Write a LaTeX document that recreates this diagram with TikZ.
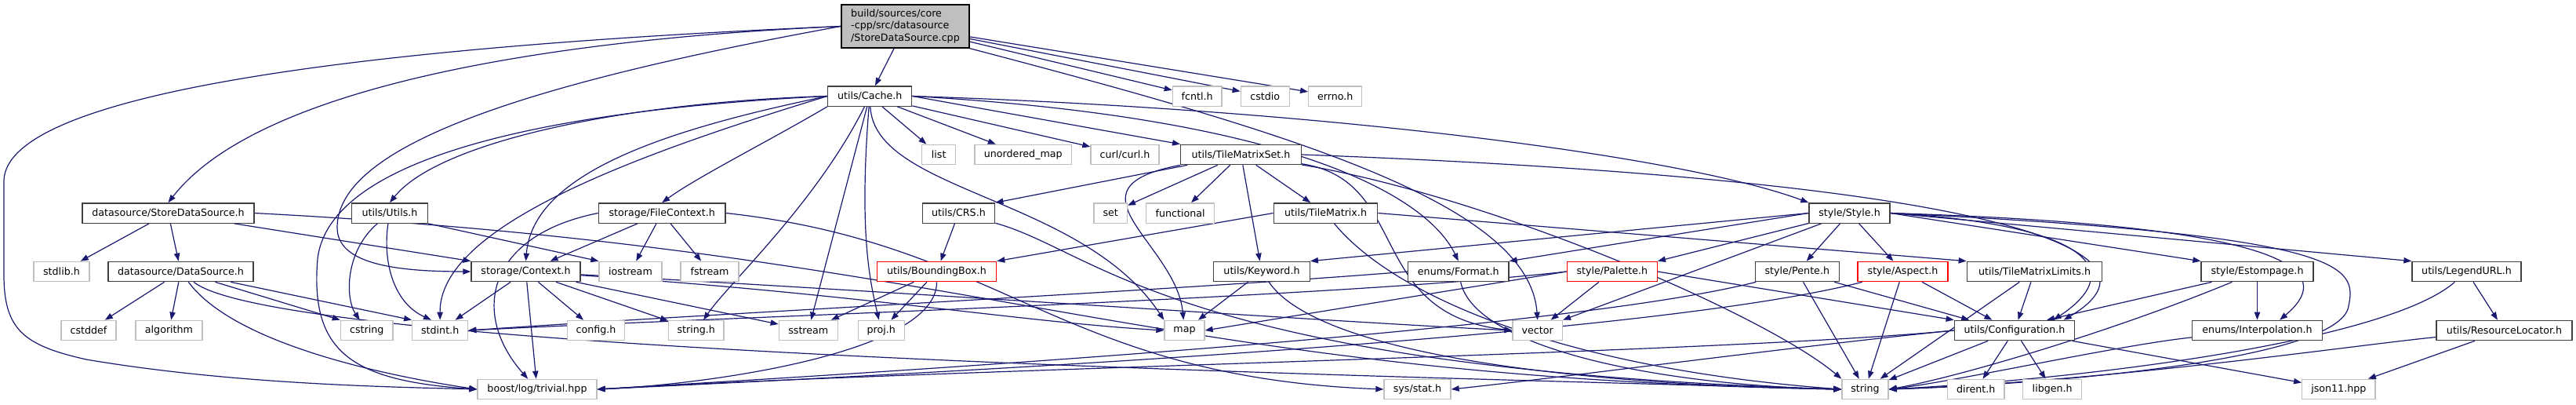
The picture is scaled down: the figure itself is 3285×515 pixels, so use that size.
\documentclass[tikz,border=0pt]{standalone}
\usepackage{fontspec}
\setmainfont{DejaVu Sans}
\usetikzlibrary{arrows.meta,backgrounds}
\definecolor{dxedge}{HTML}{191970}
\definecolor{dxgray}{HTML}{BFBFBF}
\definecolor{dxdark}{HTML}{404040}
\definecolor{dxred}{HTML}{FF0000}
\tikzset{
  hdr/.style={rectangle,draw=dxdark,line width=1pt,fill=white,minimum height=19pt,
              inner sep=0pt,font=\fontsize{9.5}{11.5}\selectfont},
  sys/.style={hdr,draw=dxgray},
  trunc/.style={hdr,draw=dxred},
  root/.style={hdr,draw=black,fill=dxgray,align=left,minimum height=41.25pt},
  wd/.style={minimum width=#1*0.75pt},
  dep/.style={-{Triangle[length=7.5pt,width=5.5pt]},draw=dxedge,line width=0.9pt},
}

\begin{document}
\begin{tikzpicture}[x=0.75pt,y=-0.75pt]
  \useasboundingbox (0,0) rectangle (3285,515);
  % row 0 / 1
  \node[root,wd=163] (main) at (1154.5,33.5) {build/sources/core\\-cpp/src/datasource\\/StoreDataSource.cpp};
  \node[hdr,wd=107] (cache) at (1109.2,122.5) {utils/Cache.h};
  \node[sys,wd=62.7] (fcntl) at (1526.7,122.5) {fcntl.h};
  \node[sys,wd=62] (cstdio) at (1613.3,122.5) {cstdio};
  \node[sys,wd=68] (errno) at (1702.7,122.5) {errno.h};
  % row 2
  \node[sys,wd=43] (list) at (1197.2,197) {list};
  \node[sys,wd=123.7] (umap) at (1304.8,197) {unordered\_map};
  \node[sys,wd=87] (curl) at (1434.5,197) {curl/curl.h};
  \node[hdr,wd=153.6] (tms) at (1582.5,197) {utils/TileMatrixSet.h};
  % row 3
  \node[hdr,wd=219] (sds) at (214.5,271.5) {datasource/StoreDataSource.h};
  \node[hdr,wd=96.6] (utils) at (497,271.5) {utils/Utils.h};
  \node[hdr,wd=161.7] (filectx) at (844.2,271.5) {storage/FileContext.h};
  \node[hdr,wd=92.4] (crs) at (1222.5,271.5) {utils/CRS.h};
  \node[sys,wd=42.3] (set) at (1416.2,271.5) {set};
  \node[sys,wd=87] (functional) at (1505.2,271.5) {functional};
  \node[hdr,wd=132.4] (tm) at (1690.5,271.5) {utils/TileMatrix.h};
  \node[hdr,wd=103] (style) at (2358.5,271.5) {style/Style.h};
  % row 4
  \node[sys,wd=71] (stdlib) at (78.5,346) {stdlib.h};
  \node[hdr,wd=185] (ds) at (230.5,346) {datasource/DataSource.h};
  \node[hdr,wd=139] (ctx) at (670.5,346) {storage/Context.h};
  \node[sys,wd=80] (iostream) at (804,346) {iostream};
  \node[sys,wd=74] (fstream) at (905,346) {fstream};
  \node[trunc,wd=152.4] (bbox) at (1194.5,346) {utils/BoundingBox.h};
  \node[hdr,wd=122.6] (keyword) at (1609,346) {utils/Keyword.h};
  \node[hdr,wd=128.3] (format) at (1859.8,346) {enums/Format.h};
  \node[trunc,wd=115] (palette) at (2055.8,346) {style/Palette.h};
  \node[hdr,wd=107] (pente) at (2291.8,346) {style/Pente.h};
  \node[trunc,wd=115] (aspect) at (2426.5,346) {style/Aspect.h};
  \node[hdr,wd=172.4] (tml) at (2594.5,346) {utils/TileMatrixLimits.h};
  \node[hdr,wd=143] (estompage) at (2878.5,346) {style/Estompage.h};
  \node[hdr,wd=139] (legend) at (3145.5,346) {utils/LegendURL.h};
  % row 5
  \node[sys,wd=70] (cstddef) at (113,421) {cstddef};
  \node[sys,wd=85] (algorithm) at (215.5,421) {algorithm};
  \node[sys,wd=66.7] (cstring) at (467.7,421) {cstring};
  \node[sys,wd=71] (stdint) at (561.2,421) {stdint.h};
  \node[sys,wd=73.4] (config) at (760,421) {config.h};
  \node[sys,wd=70.3] (stringh) at (887.8,421) {string.h};
  \node[sys,wd=75] (sstream) at (1030.8,421) {sstream};
  \node[sys,wd=59] (proj) at (1123.8,421) {proj.h};
  \node[sys,wd=51] (map) at (1510.5,421) {map};
  \node[sys,wd=63.3] (vector) at (1960.7,421) {vector};
  \node[hdr,wd=153.4] (conf) at (2569,421) {utils/Configuration.h};
  \node[hdr,wd=165.6] (interp) at (2878.5,421) {enums/Interpolation.h};
  \node[hdr,wd=173] (resloc) at (3193.5,421) {utils/ResourceLocator.h};
  % row 6
  \node[sys,wd=152] (boost) at (685,496) {boost/log/trivial.hpp};
  \node[sys,wd=85] (sysstat) at (1807.5,496) {sys/stat.h};
  \node[sys,wd=59] (string) at (2378.5,496) {string};
  \node[sys,wd=72.3] (dirent) at (2519.8,496) {dirent.h};
  \node[sys,wd=75] (libgen) at (2617.2,496) {libgen.h};
  \node[sys,wd=93.3] (json) at (2982.3,496) {json11.hpp};

  \begin{scope}[on background layer]
  % StoreDataSource.cpp
  \draw[dep] (main) -- (cache);
  \draw[dep] (main.west) .. controls (700,50) and (330,110) .. (sds.north);
  \draw[dep] (main.west) .. controls (450,60) and (8,120) .. (5,230) -- (5,350)
        .. controls (5,420) and (30,440) .. (110,458) .. controls (300,490) and (500,493) .. (boost.west);
  \draw[dep] (main.west) .. controls (650,110) and (430,190) .. (430,290) .. controls (430,335) and (500,346) .. (ctx.west);
  \draw[dep] (main) -- (fcntl);
  \draw[dep] (main) -- (cstdio);
  \draw[dep] (main) -- (errno);
  \draw[dep] (main.south east) .. controls (1650,170) and (1950,260) .. (vector.north);
  % Cache.h
  \draw[dep] (cache) -- (list);
  \draw[dep] (cache) -- (umap);
  \draw[dep] (cache) -- (curl);
  \draw[dep] (cache.east) -- (tms.north west);
  \draw[dep] (cache.east) .. controls (1700,140) and (2150,200) .. (style.north west);
  \draw[dep] (cache.east) .. controls (1650,150) and (1820,250) .. (format.north);
  \draw[dep] (cache.west) .. controls (800,130) and (560,180) .. (utils.north);
  \draw[dep] (cache.west) .. controls (700,140) and (420,200) .. (405,330) .. controls (395,450) and (450,485) .. (boost.west);
  \draw[dep] (cache.west) .. controls (850,165) and (680,220) .. (ctx.north);
  \draw[dep] (cache.west) .. controls (800,200) and (560,290) .. (stdint.north);
  \draw[dep] (cache.south west) .. controls (980,180) and (890,225) .. (filectx.north);
  \draw[dep] (cache) .. controls (1040,260) and (930,360) .. (stringh);
  \draw[dep] (cache) -- (sstream);
  \draw[dep] (cache) .. controls (1095,300) and (1110,360) .. (proj);
  \draw[dep] (cache) .. controls (1115,245) and (1380,250) .. (map.north west);
  % StoreDataSource.h
  \draw[dep] (sds) -- (stdlib);
  \draw[dep] (sds) -- (ds);
  \draw[dep] (sds) -- (ctx.north west);
  \draw[dep] (sds.east) .. controls (1250,320) and (1450,480) .. (string.west);
  % Utils.h
  \draw[dep] (utils) .. controls (440,320) and (440,380) .. (cstring);
  \draw[dep] (utils) .. controls (488,330) and (500,385) .. (stdint.130);
  \draw[dep] (utils.south east) -- (iostream.north west);
  % FileContext.h
  \draw[dep] (filectx) -- (ctx);
  \draw[dep] (filectx) -- (iostream);
  \draw[dep] (filectx) -- (fstream);
  \draw[dep] (filectx.west) .. controls (620,300) and (600,400) .. (boost);
  \draw[dep] (filectx.east) .. controls (1280,310) and (1350,480) .. (sysstat.west);
  % Context.h
  \draw[dep] (ctx) -- (stdint);
  \draw[dep] (ctx) -- (boost);
  \draw[dep] (ctx) -- (config);
  \draw[dep] (ctx) -- (stringh);
  \draw[dep] (ctx) -- (sstream);
  \draw[dep] (ctx) .. controls (1100,375) and (1300,410) .. (map.west);
  \draw[dep] (ctx) .. controls (1200,375) and (1700,410) .. (vector.west);
  % DataSource.h
  \draw[dep] (ds) -- (cstddef);
  \draw[dep] (ds) -- (algorithm);
  \draw[dep] (ds) -- (cstring.north west);
  \draw[dep] (ds) -- (stdint.north west);
  \draw[dep] (ds) .. controls (300,440) and (500,480) .. (boost.west);
  \draw[dep] (ds) .. controls (360,450) and (1800,480) .. (string.west);
  % CRS.h
  \draw[dep] (crs) -- (bbox);
  \draw[dep] (crs) .. controls (1400,320) and (1500,470) .. (string.west);
  % TileMatrixSet.h
  \draw[dep] (tms) -- (crs.north east);
  \draw[dep] (tms) -- (set);
  \draw[dep] (tms) -- (functional);
  \draw[dep] (tms) -- (tm);
  \draw[dep] (tms) -- (keyword);
  \draw[dep] (tms.south west) .. controls (1350,240) and (1500,310) .. (map);
  \draw[dep] (tms) .. controls (1800,230) and (1740,400) .. (vector.west);
  \draw[dep] (tms) .. controls (1900,250) and (2250,400) .. (string.north west);
  \draw[dep] (tms.east) .. controls (2550,230) and (2780,320) .. (conf.12);
  % TileMatrix.h
  \draw[dep] (tm.west) -- (bbox.north east);
  \draw[dep] (tm.east) -- (tml.north west);
  \draw[dep] (tm) .. controls (1780,380) and (2000,470) .. (string.west);
  % Keyword.h, Format.h
  \draw[dep] (keyword) -- (map);
  \draw[dep] (keyword) .. controls (1680,450) and (2000,490) .. (string.west);
  \draw[dep] (format.west) .. controls (1500,370) and (900,400) .. (stdint.east);
  \draw[dep] (format) .. controls (1880,440) and (2100,490) .. (string.west);
  % Style.h
  \draw[dep] (style.west) -- (keyword.north east);
  \draw[dep] (style.west) -- (format.north east);
  \draw[dep] (style) -- (palette.north east);
  \draw[dep] (style) -- (vector.north east);
  \draw[dep] (style) -- (pente);
  \draw[dep] (style) -- (aspect);
  \draw[dep] (style.east) -- (estompage.north west);
  \draw[dep] (style.east) -- (legend.north west);
  \draw[dep] (style.east) .. controls (2650,285) and (2720,340) .. (conf.15);
  \draw[dep] (style.east) .. controls (2850,285) and (3000,330) .. (interp.25);
  \draw[dep] (style.east) .. controls (3000,300) and (3005,340) .. (2995,390) .. controls (2985,460) and (2600,490) .. (string.east);
  % Palette.h, Pente.h, Aspect.h
  \draw[dep] (palette) -- (vector);
  \draw[dep] (palette.west) -- (map.east);
  \draw[dep] (palette.west) .. controls (1700,380) and (900,405) .. (stdint.east);
  \draw[dep] (palette.east) -- (conf.north west);
  \draw[dep] (pente) -- (string);
  \draw[dep] (pente) -- (conf.167);
  \draw[dep] (pente) .. controls (2000,420) and (1200,470) .. (boost.east);
  \draw[dep] (aspect) -- (string);
  \draw[dep] (aspect) -- (conf.155);
  \draw[dep] (aspect) .. controls (2100,430) and (1200,475) .. (boost.east);
  % TileMatrixLimits.h, Estompage.h
  \draw[dep] (tml) -- (conf);
  \draw[dep] (tml) -- (string);
  \draw[dep] (estompage) -- (conf.18);
  \draw[dep] (estompage) -- (interp);
  \draw[dep] (estompage) .. controls (2700,420) and (2500,480) .. (string.east);
  % LegendURL.h, ResourceLocator.h, Interpolation.h
  \draw[dep] (legend) -- (resloc);
  \draw[dep] (legend) .. controls (3050,430) and (2700,480) .. (string.east);
  \draw[dep] (resloc) -- (json);
  \draw[dep] (resloc) .. controls (3000,440) and (2700,485) .. (string.east);
  \draw[dep] (interp) .. controls (2700,440) and (2500,485) .. (string.east);
  % Configuration.h
  \draw[dep] (conf) -- (dirent);
  \draw[dep] (conf) -- (libgen);
  \draw[dep] (conf) -- (json);
  \draw[dep] (conf) -- (string);
  \draw[dep] (conf.west) .. controls (2300,440) and (2000,480) .. (sysstat.east);
  \draw[dep] (conf.west) .. controls (2200,450) and (1200,470) .. (boost.east);
  % BoundingBox.h
  \draw[dep] (bbox) -- (sstream);
  \draw[dep] (bbox) -- (proj);
  \draw[dep] (bbox) .. controls (1195,450) and (900,490) .. (boost.east);
  \end{scope}
\end{tikzpicture}
\end{document}
